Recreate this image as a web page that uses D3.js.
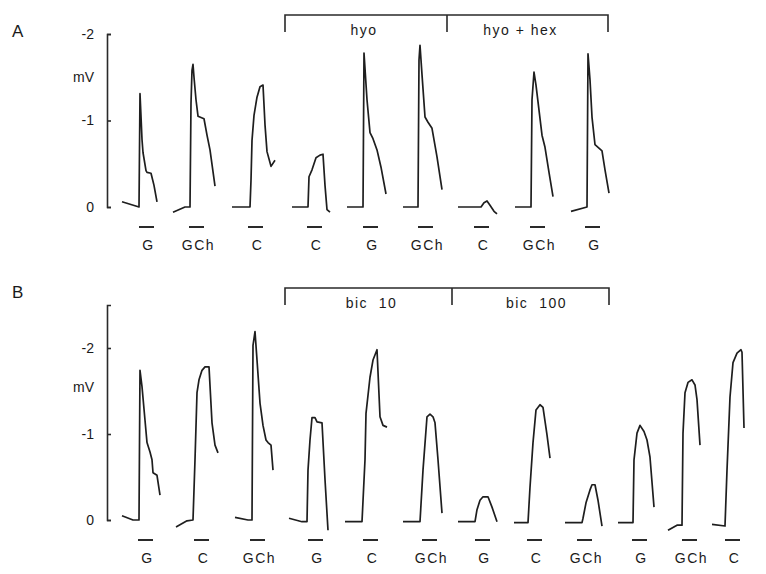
<!DOCTYPE html>
<html>
<head>
<meta charset="utf-8">
<script src="https://cdn.jsdelivr.net/npm/d3@7"></script>
<style>
  body { margin: 0; background: #fff; }
  svg text { font-family: "Liberation Sans", Arial, sans-serif; fill: #1a1a1a; }
  .trace { fill: none; stroke: #1e1e1e; stroke-width: 1.7; stroke-linejoin: round; }
  .stim { stroke: #2a2a2a; stroke-width: 2; }
  .bracket { fill: none; stroke: #2a2a2a; stroke-width: 1.6; }
  .axis path, .axis line { stroke: #2a2a2a; stroke-width: 1.6; }
  .axis text { font-size: 14px; }
  .cond { font-size: 14px; letter-spacing: 1.5px; white-space: pre; }
</style>
</head>
<body>
<svg id="chart" width="766" height="574"></svg>
<script>
// ---- panel A ----
const labelsA = ["G", "GCh", "C", "C", "G", "GCh", "C", "GCh", "G"];
const onsetA = [33, 83, 143, 201, 256, 311, 369, 424, 480];
const stimA = [32, 82, 141, 200, 256, 311, 367, 423, 478];
// [time from onset, mV]
const tracesA = [
  [[-18, -0.06], [-1, 0], [0, -1.31], [1, -1.05], [2, -0.78], [3, -0.63], [6, -0.42], [7, -0.40], [11, -0.39], [14, -0.25], [17, -0.06]],
  [[-17, 0.06], [-5, 0], [0, 0], [1, -1.2], [2, -1.58], [3, -1.65], [4, -1.5], [6, -1.24], [8, -1.05], [14, -1.02], [17, -0.83], [20, -0.66], [25, -0.24]],
  [[-18, 0], [0, 0], [1, -0.31], [2, -0.77], [4, -1.06], [7, -1.27], [10, -1.39], [13, -1.41], [15, -0.95], [17, -0.64], [21, -0.47], [25, -0.54]],
  [[-16, 0], [0, 0], [1, -0.35], [4, -0.43], [8, -0.57], [12, -0.60], [15, -0.61], [17, -0.25], [19, 0.03], [22, 0.06]],
  [[-16, 0], [0, 0], [1, -1.78], [4, -1.24], [7, -0.86], [10, -0.79], [14, -0.66], [18, -0.46], [23, -0.15]],
  [[-15, 0], [0, 0], [1, -1.70], [2, -1.87], [4, -1.53], [7, -1.04], [10, -0.98], [14, -0.91], [19, -0.58], [24, -0.20]],
  [[-18, 0], [5, 0], [8, -0.05], [11, -0.07], [14, -0.02], [18, 0.05], [21, 0.08]],
  [[-16, 0], [0, 0], [1, -1.24], [3, -1.56], [5, -1.41], [8, -1.12], [11, -0.83], [14, -0.69], [18, -0.40], [22, -0.12]],
  [[-16, 0.05], [0, 0], [1, -1.77], [3, -1.47], [5, -1.04], [8, -0.72], [15, -0.65], [18, -0.43], [22, -0.16]]
];
const ticksA = [0, -1, -2];
const bracketA = [178, 340, 501];
const bracketTextA = ["hyo", "hyo + hex"];

// ---- panel B ----
const labelsB = ["G", "C", "GCh", "G", "C", "GCh", "G", "C", "GCh", "G", "GCh", "C"];
const onsetB = [33, 86, 145, 200, 255, 313, 368, 421, 475, 526, 575, 619];
const stimB = [31, 87, 143, 201, 256, 315, 368, 420, 470, 525, 575, 618];
const tracesB = [
  [[-18, -0.05], [-7, 0], [-1, 0], [0, -1.74], [2, -1.55], [5, -1.16], [7, -0.90], [10, -0.79], [12, -0.70], [13, -0.55], [17, -0.52], [20, -0.29]],
  [[-17, 0.08], [-6, 0.01], [0, 0], [2, -0.70], [4, -1.48], [6, -1.63], [9, -1.74], [12, -1.78], [16, -1.78], [19, -1.13], [22, -0.87], [25, -0.78]],
  [[-17, -0.03], [-4, 0], [0, 0], [1, -2.03], [3, -2.19], [5, -1.86], [8, -1.36], [11, -1.10], [14, -0.93], [16, -0.90], [19, -0.87], [21, -0.58]],
  [[-18, -0.02], [-5, 0.02], [0, 0.02], [1, -0.58], [3, -0.93], [5, -1.19], [8, -1.19], [10, -1.14], [15, -1.13], [18, -0.47], [21, 0.12]],
  [[-17, 0.02], [0, 0.02], [3, -0.70], [4, -1.24], [8, -1.66], [11, -1.86], [15, -1.98], [18, -1.20], [21, -1.10], [25, -1.08]],
  [[-17, 0.02], [0, 0.02], [3, -0.58], [7, -1.20], [10, -1.23], [13, -1.20], [15, -1.13], [18, -0.70], [22, -0.08]],
  [[-17, 0.02], [0, 0.02], [2, -0.12], [5, -0.23], [8, -0.27], [13, -0.27], [17, -0.15], [22, 0.02]],
  [[-14, 0.03], [0, 0.03], [2, -0.38], [5, -0.90], [8, -1.28], [12, -1.34], [15, -1.31], [19, -0.99], [22, -0.72]],
  [[-17, 0.03], [0, 0.03], [1, -0.02], [4, -0.20], [8, -0.35], [10, -0.41], [13, -0.41], [16, -0.23], [20, 0.07]],
  [[-15, 0.03], [0, 0.03], [1, -0.70], [4, -1.01], [7, -1.10], [11, -1.03], [14, -0.93], [17, -0.73], [21, -0.15]],
  [[-14, 0.12], [-5, 0.06], [0, 0.06], [1, -1.01], [3, -1.48], [6, -1.60], [10, -1.63], [13, -1.57], [15, -1.40], [18, -0.87]],
  [[-14, 0.05], [-1, 0.07], [1, -0.58], [4, -1.43], [7, -1.83], [11, -1.94], [15, -1.98], [16, -1.95], [18, -1.07]]
];
const ticksB = [0, -1, -2];
const bracketB = [178, 345, 502];
const bracketTextB = ["bic  10", "bic  100"];

const stimLen = 15;

const svg = d3.select("#chart");

// time axis shared by both panels
const x = d3.scaleLinear().domain([0, 659]).range([107, 766]);

function drawPanel(p) {
  const g = svg.append("g");
  const y = d3.scaleLinear().domain(p.vDomain).range(p.yRange);
  const y0 = y(0);

  g.append("text")
    .attr("x", 12).attr("y", p.letterY)
    .style("font-size", "17px")
    .text(p.letter);

  // voltage axis
  const axis = d3.axisLeft(y)
    .tickValues(p.ticks)
    .tickSizeInner(-4)
    .tickSizeOuter(-4)
    .tickPadding(13)
    .tickFormat(d => String(d));

  g.append("g")
    .attr("class", "axis")
    .attr("transform", "translate(" + x(0) + ",0)")
    .call(axis);

  g.append("text")
    .attr("x", x(0) - 13)
    .attr("y", y(p.unitAt))
    .attr("dy", "0.35em")
    .attr("text-anchor", "end")
    .style("font-size", "14px")
    .text("mV");

  // traces
  const line = d3.line()
    .x(d => x(d[0]))
    .y(d => y(d[1]));

  g.selectAll(".trace")
    .data(p.traces)
    .enter().append("path")
    .attr("class", "trace")
    .attr("d", (tr, i) => line(tr.map(d => [p.onsets[i] + d[0], d[1]])));

  // stimulus bars
  g.selectAll(".stim")
    .data(p.stim)
    .enter().append("line")
    .attr("class", "stim")
    .attr("x1", d => x(d))
    .attr("x2", d => x(d + stimLen))
    .attr("y1", y0 + 20)
    .attr("y2", y0 + 20);

  g.selectAll(".lab")
    .data(p.labels)
    .enter().append("text")
    .attr("class", "cond")
    .attr("x", (d, i) => x(p.stim[i] + stimLen / 2 + 2))
    .attr("y", y0 + 43)
    .attr("text-anchor", "middle")
    .text(d => d);

  // drug bracket
  const b = p.bracket;
  const top = p.bracketY;
  g.append("path")
    .attr("class", "bracket")
    .attr("d", "M" + x(b[0]) + "," + (top + 17) + "V" + top + "H" + x(b[2]) + "V" + (top + 17)
      + "M" + x(b[1]) + "," + top + "V" + (top + 17));

  g.selectAll(".btxt")
    .data(p.bracketText)
    .enter().append("text")
    .attr("class", "cond")
    .attr("x", (d, i) => x((b[i] + b[i + 1]) / 2) + p.textShift[i])
    .attr("y", top + p.textDrop)
    .attr("text-anchor", "middle")
    .text(d => d);
}

drawPanel({
  letter: "A", letterY: 37,
  vDomain: [0, -2], yRange: [207, 34],
  ticks: ticksA, unitAt: -1.5,
  traces: tracesA, onsets: onsetA, stim: stimA, labels: labelsA,
  bracket: bracketA, bracketText: bracketTextA, bracketY: 15, textDrop: 20, textShift: [-2, -7]
});

drawPanel({
  letter: "B", letterY: 298,
  vDomain: [0, -2.5], yRange: [520, 305],
  ticks: ticksB, unitAt: -1.55,
  traces: tracesB, onsets: onsetB, stim: stimB, labels: labelsB,
  bracket: bracketB, bracketText: bracketTextB, bracketY: 288, textDrop: 20, textShift: [3, 6]
});
</script>
</body>
</html>
